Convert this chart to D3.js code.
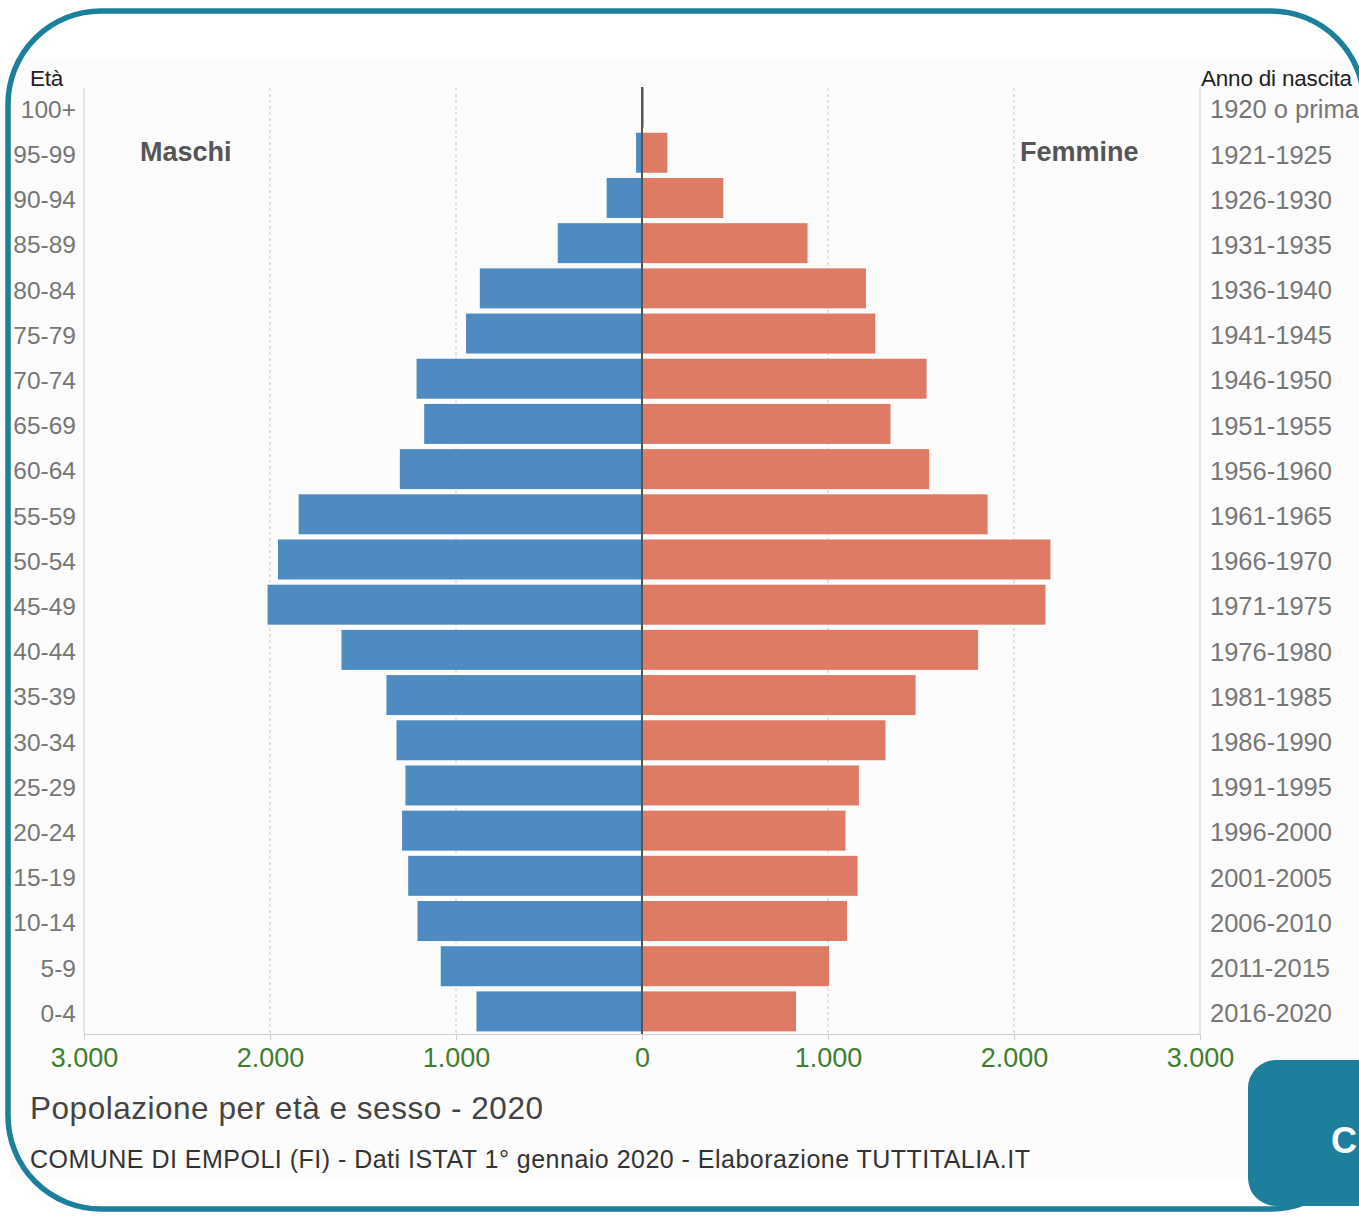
<!DOCTYPE html>
<html>
<head>
<meta charset="utf-8">
<script src="https://cdn.jsdelivr.net/npm/d3@7"></script>
<style>
  body { margin: 0; background: #fff; }
  svg { display: block; font-family: "Liberation Sans", Arial, Helvetica, sans-serif; }
  .age text { font-size: 24.5px; fill: #777; }
  .birth text { font-size: 25.5px; fill: #777; }
  .xaxis text { font-size: 27px; fill: #3f7d31; }
</style>
</head>
<body>
<svg id="pyramid" width="1359" height="1216"></svg>
<script>
// age classes, top to bottom
const ageGroups = ["100+", "95-99", "90-94", "85-89", "80-84", "75-79", "70-74", "65-69", "60-64",
  "55-59", "50-54", "45-49", "40-44", "35-39", "30-34", "25-29", "20-24", "15-19", "10-14", "5-9", "0-4"];
const birthYears = ["1920 o prima", "1921-1925", "1926-1930", "1931-1935", "1936-1940", "1941-1945",
  "1946-1950", "1951-1955", "1956-1960", "1961-1965", "1966-1970", "1971-1975", "1976-1980",
  "1981-1985", "1986-1990", "1991-1995", "1996-2000", "2001-2005", "2006-2010", "2011-2015", "2016-2020"];
const males = [2, 32, 190, 453, 872, 946, 1212, 1171, 1302, 1846, 1957, 2013, 1616, 1374, 1320,
  1272, 1290, 1257, 1207, 1082, 890];
const females = [10, 136, 437, 890, 1204, 1254, 1530, 1336, 1544, 1858, 2196, 2169, 1807, 1471,
  1309, 1166, 1094, 1159, 1102, 1006, 828];
const xTicks = [0, 1000, 2000, 3000];

const svg = d3.select("#pyramid");
const W = 1359;
const plotLeft = 84, plotRight = 1200, mid = 642, plotTop = 85, plotBottom = 1034;

const it = d3.formatLocale({ decimal: ",", thousands: ".", grouping: [3], currency: ["€", ""] });
const fmt = it.format(",");

const xMale = d3.scaleLinear().domain([0, 3000]).range([mid, plotLeft]);
const xFemale = d3.scaleLinear().domain([0, 3000]).range([mid, plotRight]);
const y = d3.scaleBand().domain(ageGroups).range([plotTop, plotBottom])
  .paddingInner(0.115).paddingOuter(0.0575);

// faint panel
svg.append("rect").attr("x", 10).attr("y", 58).attr("width", W - 10).attr("height", 1122).attr("fill", "#fcfcfc");

// dashed grid
const gridX = [1000, 2000].flatMap(v => [xMale(v), xFemale(v)]);
svg.append("g").selectAll("line")
  .data(gridX)
  .join("line")
  .attr("x1", d => d).attr("x2", d => d)
  .attr("y1", 88).attr("y2", plotBottom)
  .attr("stroke", "#c8c8c8").attr("stroke-dasharray", "3,3");

// side axis lines
svg.append("g").selectAll("line")
  .data([plotLeft, plotRight])
  .join("line")
  .attr("x1", d => d).attr("x2", d => d)
  .attr("y1", 88).attr("y2", plotBottom)
  .attr("stroke", "#cfcfcf");

// bars
svg.append("g").selectAll("rect")
  .data(ageGroups)
  .join("rect")
  .attr("x", (d, i) => xMale(males[i]))
  .attr("y", d => y(d))
  .attr("width", (d, i) => mid - xMale(males[i]))
  .attr("height", y.bandwidth())
  .attr("fill", "#4f8bc3");

svg.append("g").selectAll("rect")
  .data(ageGroups)
  .join("rect")
  .attr("x", mid)
  .attr("y", d => y(d))
  .attr("width", (d, i) => xFemale(females[i]) - mid)
  .attr("height", y.bandwidth())
  .attr("fill", "#df7b65");

// centre line
svg.append("line").attr("x1", mid).attr("x2", mid).attr("y1", 87).attr("y2", plotBottom)
  .attr("stroke", "#555").attr("stroke-width", 2);

// x axes
const axL = svg.append("g").attr("class", "xaxis").attr("transform", `translate(0,${plotBottom})`)
  .call(d3.axisBottom(xMale).tickValues(xTicks.slice(1)).tickFormat(fmt).tickSize(6).tickPadding(8));
const axR = svg.append("g").attr("class", "xaxis").attr("transform", `translate(0,${plotBottom})`)
  .call(d3.axisBottom(xFemale).tickValues(xTicks).tickFormat(fmt).tickSize(6).tickPadding(8));
[axL, axR].forEach(a => {
  a.select(".domain").attr("stroke", "#cfcfcf");
  a.selectAll(".tick line").attr("stroke", "#cfcfcf");
});

// age labels
const ageAx = svg.append("g").attr("class", "age").attr("transform", `translate(${plotLeft},0)`)
  .call(d3.axisLeft(y).tickSize(0).tickPadding(8));
ageAx.select(".domain").remove();
ageAx.selectAll("text").attr("dy", "0.42em");

const birthAx = svg.append("g").attr("class", "birth").attr("transform", `translate(${plotRight},0)`)
  .call(d3.axisRight(y).tickSize(0).tickPadding(10).tickFormat((d, i) => birthYears[i]));
birthAx.select(".domain").remove();
birthAx.selectAll("text").attr("dy", "0.42em");

// headers
svg.append("text").attr("x", 30).attr("y", 86).attr("font-size", 22.5).attr("letter-spacing", -0.2)
  .attr("fill", "#222").text("Età");
svg.append("text").attr("x", 1201).attr("y", 86).attr("font-size", 22.5).attr("letter-spacing", -0.2)
  .attr("fill", "#222").text("Anno di nascita");

svg.append("text").attr("x", 140).attr("y", 161).attr("font-size", 27).attr("font-weight", "bold")
  .attr("fill", "#555").text("Maschi");
svg.append("text").attr("x", 1020).attr("y", 161).attr("font-size", 27).attr("font-weight", "bold")
  .attr("fill", "#555").text("Femmine");

// titles
svg.append("text").attr("x", 30).attr("y", 1119).attr("font-size", 31.5).attr("fill", "#444")
  .attr("textLength", 513).attr("lengthAdjust", "spacing")
  .text("Popolazione per età e sesso - 2020");
svg.append("text").attr("x", 30).attr("y", 1168).attr("font-size", 25).attr("fill", "#333")
  .attr("textLength", 1000).attr("lengthAdjust", "spacing")
  .text("COMUNE DI EMPOLI (FI) - Dati ISTAT 1° gennaio 2020 - Elaborazione TUTTITALIA.IT");

// frame
svg.append("rect").attr("x", 8).attr("y", 11).attr("width", 1356).attr("height", 1198)
  .attr("rx", 93).attr("fill", "none").attr("stroke", "#1c7f9c").attr("stroke-width", 5.5);

// button
svg.append("rect").attr("x", 1248).attr("y", 1060).attr("width", 160).attr("height", 146)
  .attr("rx", 28).attr("fill", "#1c7f9c");
svg.append("text").attr("x", 1331).attr("y", 1153).attr("font-size", 36).attr("font-weight", "bold")
  .attr("fill", "#fff").text("C");
</script>
</body>
</html>
